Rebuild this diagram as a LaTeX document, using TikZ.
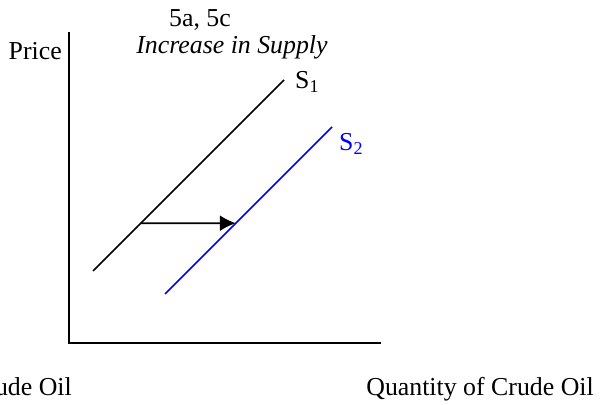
\documentclass[tikz,border=0pt]{standalone}
\usepackage{fontspec}
\setmainfont{Liberation Serif}
\usetikzlibrary{arrows.meta,calc}

\begin{document}
\begin{tikzpicture}[
    font=\fontsize{14.7}{17}\selectfont,
    axis/.style={line width=1.1pt},
    supply/.style={line width=1pt},
    shiftarrow/.style={line width=1pt,-{Latex[length=9pt,width=9pt]}}
  ]
  \useasboundingbox (0,0) rectangle (12.04,8.08);
  % axes
  \coordinate (O)  at (1.38,1.22);
  \coordinate (Yt) at (1.38,7.44);
  \coordinate (Xr) at (7.62,1.22);
  \draw[axis] (Yt) -- (O) -- (Xr);
  % labels
  \node (title) at (4.0,7.68)  {5a, 5c};
  \node (sub)   at (4.64,7.14) {\textit{Increase in Supply}};
  \node[anchor=east] (price) at (1.36,7.06) {Price};
  \node[anchor=east] (qty)   at (12.0,0.30) {Quantity of Crude Oil};
  \node[anchor=east] (qtyl)  at (1.56,0.30) {Quantity of Crude Oil};
  % supply curves
  \coordinate (S1b) at (1.86,2.66);
  \coordinate (S1t) at (5.68,6.48);
  \coordinate (S2b) at (3.30,2.20);
  \coordinate (S2t) at (6.64,5.54);
  \draw[supply] (S1b) -- (S1t);
  \draw[supply,blue] (S2b) -- (S2t);
  \node[anchor=west] (s1) at (5.78,6.44) {S\textsubscript{1}};
  \node[anchor=west,blue] (s2) at (6.66,5.20) {S\textsubscript{2}};
  % shift
  \coordinate (A1) at ($(S1b)!0.25!(S1t)$);
  \coordinate (A2) at ($(S2b)!0.424!(S2t)$);
  \draw[shiftarrow] (A1) -- (A2);
\end{tikzpicture}
\end{document}
